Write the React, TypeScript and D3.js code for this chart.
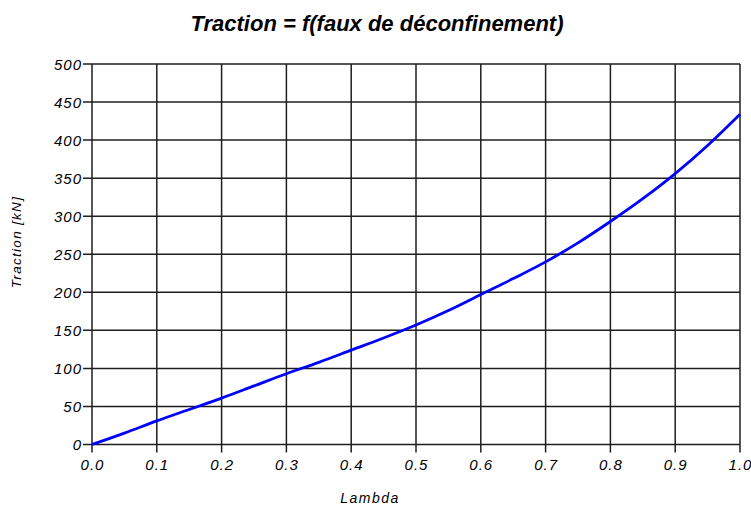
import React from "react";
import * as d3 from "d3";

const lambdas = [0, 0.05, 0.1, 0.15, 0.2, 0.25, 0.3, 0.35, 0.4, 0.45, 0.5, 0.55, 0.6, 0.65, 0.7, 0.75, 0.8, 0.85, 0.9, 0.95, 1.0];
const traction = [0, 15, 31, 46, 61, 77, 93, 108, 124, 140, 157, 176, 197, 218, 240, 265, 293, 323, 356, 393, 434];
const xTicks = [0, 0.1, 0.2, 0.3, 0.4, 0.5, 0.6, 0.7, 0.8, 0.9, 1.0];
const yTicks = [0, 50, 100, 150, 200, 250, 300, 350, 400, 450, 500];

const W = 751, H = 506;
const L = 92, R = 740, T = 64, B = 444.5;
const font = "'Liberation Sans', Arial, sans-serif";

export default function App() {
  const x = d3.scaleLinear().domain([0, 1]).range([L, R]);
  const y = d3.scaleLinear().domain([0, 500]).range([B, T]);
  const pts = lambdas.map((l, i) => [x(l), y(traction[i])] as [number, number]);
  const line = d3.line().curve(d3.curveMonotoneX)(pts) || "";
  const grid = "#1e1e1e";
  return (
    <svg width={W} height={H} style={{ position: "absolute", left: 0, top: 0, background: "#fff" }}>
      <rect x={0} y={0} width={W} height={H} fill="#fff" />
      <text x={377} y={31} textAnchor="middle" fontFamily={font} fontStyle="italic" fontWeight="bold" fontSize={22} fill="#000">
        Traction = f(faux de déconfinement)
      </text>
      {xTicks.map((t) => (
        <g key={"x" + t}>
          <line x1={x(t)} x2={x(t)} y1={T} y2={B + 8} stroke={grid} strokeWidth={1.5} />
          <text x={x(t) + 0.5} y={470} textAnchor="middle" fontFamily={font} fontStyle="italic" fontSize={15} letterSpacing={1} fill="#000">
            {t.toFixed(1)}
          </text>
        </g>
      ))}
      {yTicks.map((t) => (
        <g key={"y" + t}>
          <line x1={L - 9} x2={R} y1={y(t)} y2={y(t)} stroke={grid} strokeWidth={1.5} />
          <text x={82} y={y(t) + 5.5} textAnchor="end" fontFamily={font} fontStyle="italic" fontSize={15} letterSpacing={1} fill="#000">
            {t}
          </text>
        </g>
      ))}
      <path d={line} fill="none" stroke="#0000ff" strokeWidth={2.8} />
      <text x={370} y={503} textAnchor="middle" fontFamily={font} fontStyle="italic" fontSize={14} letterSpacing={1.5} fill="#000">
        Lambda
      </text>
      <text transform="translate(21,242) rotate(-90)" textAnchor="middle" fontFamily={font} fontStyle="italic" fontSize={13.5} letterSpacing={1.3} fill="#000">
        Traction [kN]
      </text>
    </svg>
  );
}
